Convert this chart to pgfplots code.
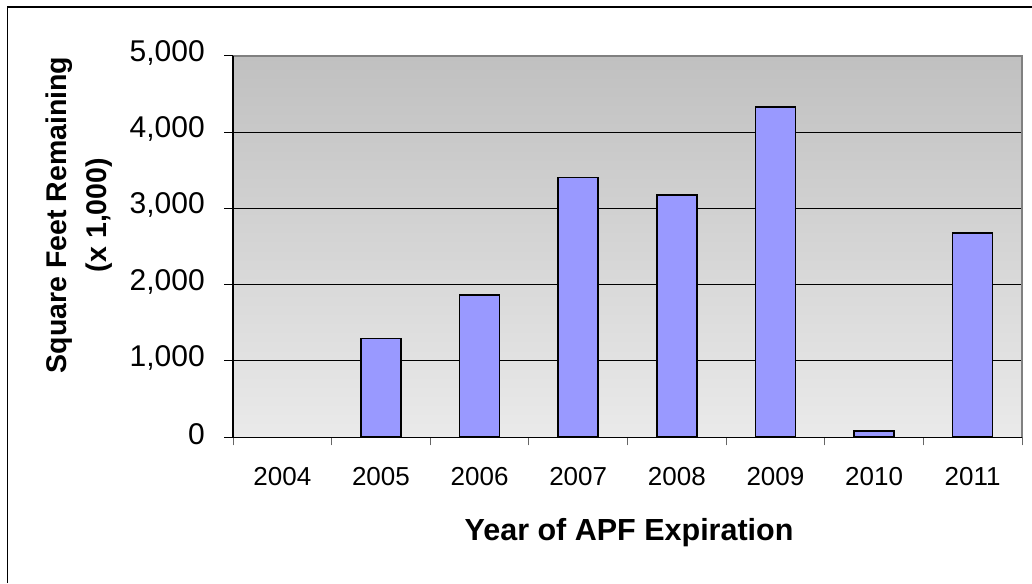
\documentclass[border=0pt]{standalone}
\usepackage{pgfplots}
\pgfplotsset{compat=1.18}
\usepackage{fontspec}
\setmainfont{Liberation Sans}
\definecolor{bartop}{RGB}{153,153,255}
\definecolor{bgtop}{RGB}{192,192,192}
\definecolor{bgbot}{RGB}{234,234,234}
\definecolor{bordergray}{RGB}{128,128,128}
\begin{document}
\begin{tikzpicture}[x=1pt,y=1pt]
\useasboundingbox (0pt,0pt) rectangle (1032pt,583pt);
\draw[line width=1.6pt] (7.3pt,0pt) -- (7.3pt,575.7pt) -- (1032pt,575.7pt);
\begin{axis}[
  at={(233pt,527.3pt)}, anchor=north west,
  scale only axis, width=789pt, height=381.6pt,
  clip=false,
  xmin=-0.5, xmax=7.5, ymin=0, ymax=5000,
  xtick={0,...,7},
  xticklabels={2004,2005,2006,2007,2008,2009,2010,2011},
  minor xtick={-0.5,0.5,...,7.5},
  ytick={0,1000,...,5000},
  tick pos=left, tick align=outside,
  major tick length=9pt, minor tick length=8pt,
  x tick style={draw=none},
  minor x tick style={draw=black!60, line width=1pt},
  y tick style={draw=black, line width=1pt},
  axis line style={draw=none},
  ymajorgrids, grid style={black, line width=1pt},
  axis background/.style={top color=bgtop, bottom color=bgbot},
  /pgf/number format/assume math mode=true,
  /pgf/number format/1000 sep={,},
  yticklabel style={font=\fontsize{30}{34}\selectfont, anchor=east, inner sep=0pt, xshift=-19pt, yshift=3pt},
  xticklabel style={font=\fontsize{26}{30}\selectfont, anchor=base, inner sep=0pt, yshift=-39pt},
  xlabel={Year of APF Expiration},
  xlabel style={font=\fontsize{30.5}{34}\selectfont\bfseries, at={(rel axis cs:0.502,-0.271)}, anchor=base, inner sep=0pt},
  ylabel={Square Feet Remaining\\(x 1,000)},
  ylabel style={font=\fontsize{28.5}{40}\selectfont\bfseries, align=center, at={(rel axis cs:-0.195,0.5825)}, anchor=center, inner sep=0pt},
]
\addplot[ybar, bar width=40pt, fill=bartop, draw=black, line width=1.6pt] coordinates {
  (1,1292) (2,1865) (3,3402) (4,3175) (5,4329) (6,83) (7,2678)
};
\draw[bordergray, line width=2pt] (rel axis cs:0,1) -- (rel axis cs:1,1) -- (rel axis cs:1,0);
\draw[black, line width=1.5pt] (rel axis cs:0,1) -- (rel axis cs:0,0) -- (rel axis cs:1,0);
\end{axis}
\end{tikzpicture}
\end{document}
